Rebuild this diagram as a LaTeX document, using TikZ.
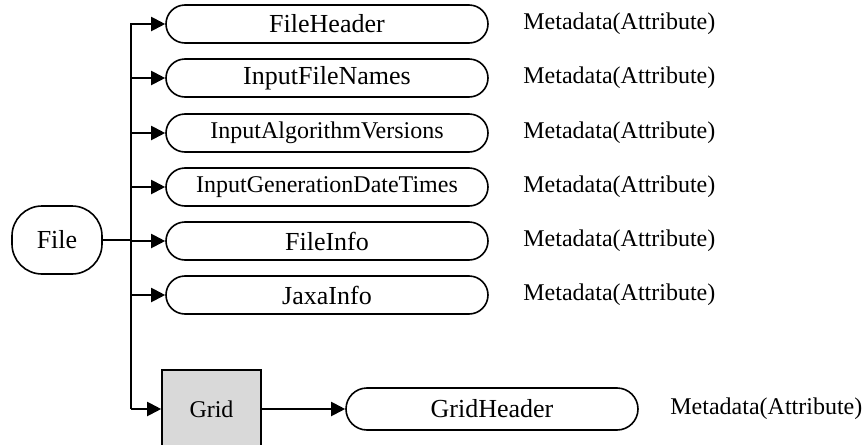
\documentclass[tikz,border=0pt]{standalone}
\usepackage{fontspec}
\setmainfont{Liberation Serif}
\usepackage{tikz}
\usetikzlibrary{positioning, arrows.meta, shapes.misc}
\definecolor{gridgray}{HTML}{D9D9D9}

\begin{document}
\begin{tikzpicture}[
  x=0.5pt, y=-0.5pt,
  grpb/.style={rectangle, draw=black, line width=0.8pt, fill=white,
               rounded corners=15pt, minimum width=45pt, minimum height=34pt,
               inner sep=2pt, font=\fontsize{13}{15}\selectfont},
  attb/.style={rounded rectangle, draw=black, line width=0.8pt, fill=white,
               minimum width=165pt, minimum height=19pt, inner sep=2pt,
               font=\fontsize{13}{15}\selectfont},
  lng/.style={attb, font=\fontsize{12}{14}\selectfont},
  dsb/.style={rectangle, draw=black, line width=0.8pt, fill=gridgray,
              minimum width=49.5pt, minimum height=39pt, inner sep=2pt,
              font=\fontsize{12}{14}\selectfont},
  meta/.style={anchor=west, inner sep=0pt, font=\fontsize{12}{14}\selectfont},
  arr/.style={-{Triangle[length=7pt, width=7pt]}, line width=1pt},
  bus/.style={line width=1.1pt}
]
\useasboundingbox (0,0) rectangle (864,445);

% --- root group ---
\node[grpb] at (57,240) (file) {File};
\coordinate (busx) at (131,240);

% --- attribute column (x = 162..492) ---
\node[attb] at (327,24)  (fh)  {FileHeader};
\node[attb] at (327,78)  (ifn) {InputFileNames};
\node[lng]  at (327,133) (iav) {InputAlgorithmVersions};
\node[lng]  at (327,187) (igd) {InputGenerationDateTimes};
\node[attb] at (327,241) (fi)  {FileInfo};
\node[attb] at (327,295) (ji)  {JaxaInfo};

% --- labels ---
\node[meta] at (523,24)  (mfh)  {Metadata(Attribute)};
\node[meta] at (523,78)  (mifn) {Metadata(Attribute)};
\node[meta] at (523,133) (miav) {Metadata(Attribute)};
\node[meta] at (523,187) (migd) {Metadata(Attribute)};
\node[meta] at (523,241) (mfi)  {Metadata(Attribute)};
\node[meta] at (523,295) (mji)  {Metadata(Attribute)};

% --- dataset group ---
\node[dsb] at (211.5,409) (grid) {Grid};
\node[attb, minimum width=150pt, minimum height=21pt] at (492,409) (gh) {GridHeader};
\node[meta] at (670,409) (mgh) {Metadata(Attribute)};

% --- bus ---
\draw[bus] (file.east) -- (file.east -| busx);
\draw[arr] (busx |- grid.west) -- (busx |- fh.west) -- (fh.west);
\foreach \n in {ifn, iav, igd, fi, ji, grid}
  \draw[arr] (busx |- \n.west) -- (\n.west);

% --- grid to header ---
\draw[arr] (grid.east) -- (gh.west);
\end{tikzpicture}
\end{document}
